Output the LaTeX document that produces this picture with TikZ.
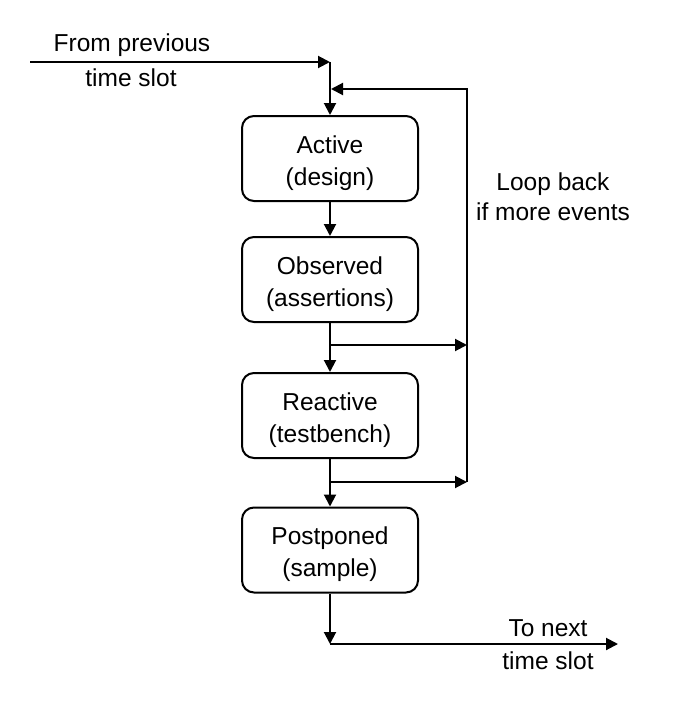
\documentclass[tikz,border=0pt]{standalone}
\usepackage{fontspec}
\setmainfont{Liberation Sans}
\usetikzlibrary{arrows.meta}
\begin{document}
\begin{tikzpicture}[x=1pt,y=-1pt,
  every node/.style={font=\fontsize{24.5}{32}\selectfont, align=center, inner sep=0pt},
  stage/.style={draw, line width=2pt, rounded corners=12pt, minimum width=176pt, minimum height=85pt},
  stagetext/.style={yshift=-4.5pt},
  arr/.style={line width=2pt, -{Triangle[length=12pt,width=12pt]}},
  ln/.style={line width=2pt}]
\useasboundingbox (0,0) rectangle (681,701);
\node[stage] (A) at (330,158.5) {};
\node[stage] (O) at (330,279.5) {};
\node[stage] (R) at (330,415.5) {};
\node[stage] (P) at (330,550) {};
\node[stagetext] (At) at (A) {Active\\(design)};
\node[stagetext] (Ot) at (O) {Observed\\(assertions)};
\node[stagetext] (Rt) at (R) {Reactive\\(testbench)};
\node[stagetext] (Pt) at (P) {Postponed\\(sample)};
\coordinate (in) at (30,62);
\coordinate (j1) at (330,62);
\coordinate (j2) at (331,89);
\coordinate (lt) at (467,89);
\coordinate (b1) at (330,345);
\coordinate (r1) at (467,345);
\coordinate (b2) at (330,482);
\coordinate (r2) at (467,482);
\coordinate (e1) at (330,644);
\coordinate (out) at (618,644);
\node (t1) at (132,45) {From previous};
\node (t2) at (131,78) {time slot};
\node (t3) at (553,184) {Loop back};
\node (t4) at (553,212) {if more events};
\node (t5) at (548,628) {To next};
\node (t6) at (548,661) {time slot};
\draw[arr] (in) -- (j1);
\draw[arr] (j1) -- (A.north);
\draw[arr] (r2) -- (lt) -- (j2);
\draw[arr] (A) -- (O);
\draw[arr] (O) -- (R);
\draw[arr] (R) -- (P);
\draw[arr] (b1) -- (r1);
\draw[arr] (b2) -- (r2);
\draw[arr] (P.south) -- (e1);
\draw[arr] (e1) -- (out);
\end{tikzpicture}
\end{document}
